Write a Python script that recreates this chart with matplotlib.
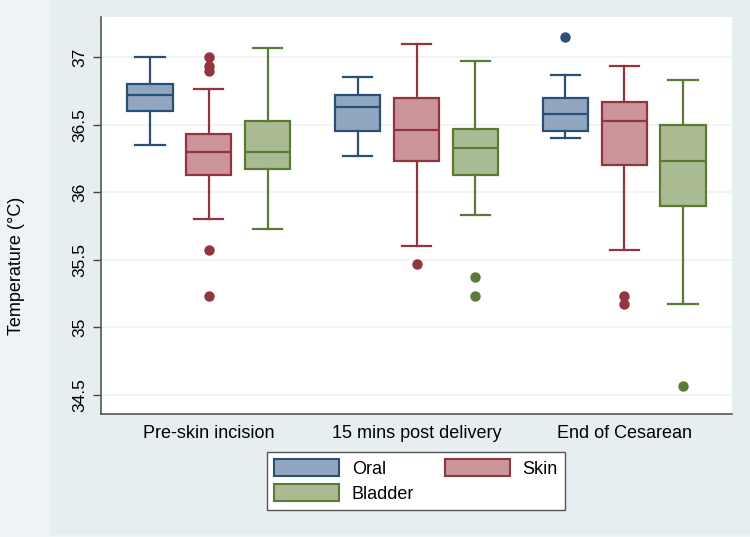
import numpy as np
import matplotlib
matplotlib.use("Agg")
import matplotlib.pyplot as plt
from matplotlib.patches import Patch, Rectangle

plt.rcParams['font.family'] = ['Liberation Sans', 'DejaVu Sans']

# timepoints and sites
timepoints = ["Pre-skin incision", "15 mins post delivery", "End of Cesarean"]
sites = ["Oral", "Skin", "Bladder"]

# box stats per site, one value per timepoint
oral_whislo = [36.35, 36.27, 36.40]
oral_q1 = [36.60, 36.45, 36.45]
oral_med = [36.72, 36.63, 36.575]
oral_q3 = [36.80, 36.72, 36.70]
oral_whishi = [37.00, 36.85, 36.87]
oral_fliers = [[], [], [37.15]]

skin_whislo = [35.80, 35.60, 35.57]
skin_q1 = [36.13, 36.23, 36.20]
skin_med = [36.30, 36.46, 36.53]
skin_q3 = [36.43, 36.70, 36.67]
skin_whishi = [36.76, 37.10, 36.93]
skin_fliers = [[37.00, 36.93, 36.90, 35.57, 35.23], [35.47], [35.23, 35.17]]

bladder_whislo = [35.73, 35.83, 35.17]
bladder_q1 = [36.17, 36.13, 35.90]
bladder_med = [36.30, 36.33, 36.23]
bladder_q3 = [36.53, 36.47, 36.50]
bladder_whishi = [37.07, 36.97, 36.83]
bladder_fliers = [[], [35.37, 35.23], [34.57]]

fills = ["#90a7bf", "#ca959b", "#aabb93"]
edges = ["#2a5078", "#93343f", "#5b7a36"]


def make_stats(lo, q1, med, q3, hi, fl):
    return [dict(whislo=lo[i], q1=q1[i], med=med[i], q3=q3[i], whishi=hi[i], fliers=fl[i])
            for i in range(len(lo))]


all_stats = [
    make_stats(oral_whislo, oral_q1, oral_med, oral_q3, oral_whishi, oral_fliers),
    make_stats(skin_whislo, skin_q1, skin_med, skin_q3, skin_whishi, skin_fliers),
    make_stats(bladder_whislo, bladder_q1, bladder_med, bladder_q3, bladder_whishi, bladder_fliers),
]

fig = plt.figure(figsize=(7.5, 5.37), dpi=100, facecolor="#eef3f5")
fig.patches.append(Rectangle((50 / 750, 2 / 537), 700 / 750, 535 / 537, transform=fig.transFigure,
                             facecolor="#e7eef1", edgecolor="none", zorder=-5))
ax = fig.add_axes([101 / 750, 1 - 414 / 537, 631 / 750, 397 / 537])
ax.set_facecolor("white")

pos = np.arange(1, len(timepoints) + 1)
offsets = [-0.284, 0, 0.284]
for k in range(3):
    ax.bxp(all_stats[k], positions=pos + offsets[k], widths=0.217, patch_artist=True,
           showfliers=True, manage_ticks=False,
           boxprops=dict(facecolor=fills[k], edgecolor=edges[k], linewidth=1.6),
           medianprops=dict(color=edges[k], linewidth=1.6),
           whiskerprops=dict(color=edges[k], linewidth=1.6),
           capprops=dict(color=edges[k], linewidth=1.6),
           capwidths=0.14,
           flierprops=dict(marker="o", markerfacecolor=edges[k], markeredgecolor=edges[k],
                           markersize=6.5))

ax.set_xlim(0.48, 3.52)
ax.set_ylim(34.36, 37.296)
ax.set_yticks([34.5, 35, 35.5, 36, 36.5, 37])
ax.set_yticklabels(["34.5", "35", "35.5", "36", "36.5", "37"], rotation=90, va="center", fontsize=12.5)
ax.set_xticks(pos)
ax.set_xticklabels(timepoints, fontsize=13)
ax.tick_params(axis="x", length=0, pad=8)
ax.tick_params(axis="y", length=6, width=1, color="#444444", pad=4)
ax.yaxis.grid(True, color="#edf2f4", linewidth=1.2)
ax.set_axisbelow(True)
for s in ["top", "right"]:
    ax.spines[s].set_visible(False)
for s in ["left", "bottom"]:
    ax.spines[s].set_color("#555555")
    ax.spines[s].set_linewidth(1.2)
fig.text(17 / 750, 1 - 266 / 537, "Temperature (°C)", rotation=90, ha="center", va="center", fontsize=13)

handles = [Patch(facecolor=fills[0], edgecolor=edges[0], linewidth=1.5, label=sites[0]),
           Patch(facecolor=fills[2], edgecolor=edges[2], linewidth=1.5, label=sites[2]),
           Patch(facecolor=fills[1], edgecolor=edges[1], linewidth=1.5, label=sites[1])]
leg = fig.legend(handles=handles, ncol=2, loc="center", bbox_to_anchor=(416 / 750, 1 - 481 / 537),
                 fontsize=13, frameon=True, fancybox=False, framealpha=1, facecolor="white",
                 handlelength=3.6, handleheight=1.1, columnspacing=1.7, handletextpad=0.7,
                 labelspacing=0.35, borderpad=0.4)
leg.get_frame().set_edgecolor("#555555")
leg.get_frame().set_linewidth(1.0)

fig.savefig("out.png", dpi=100, facecolor=fig.get_facecolor())
